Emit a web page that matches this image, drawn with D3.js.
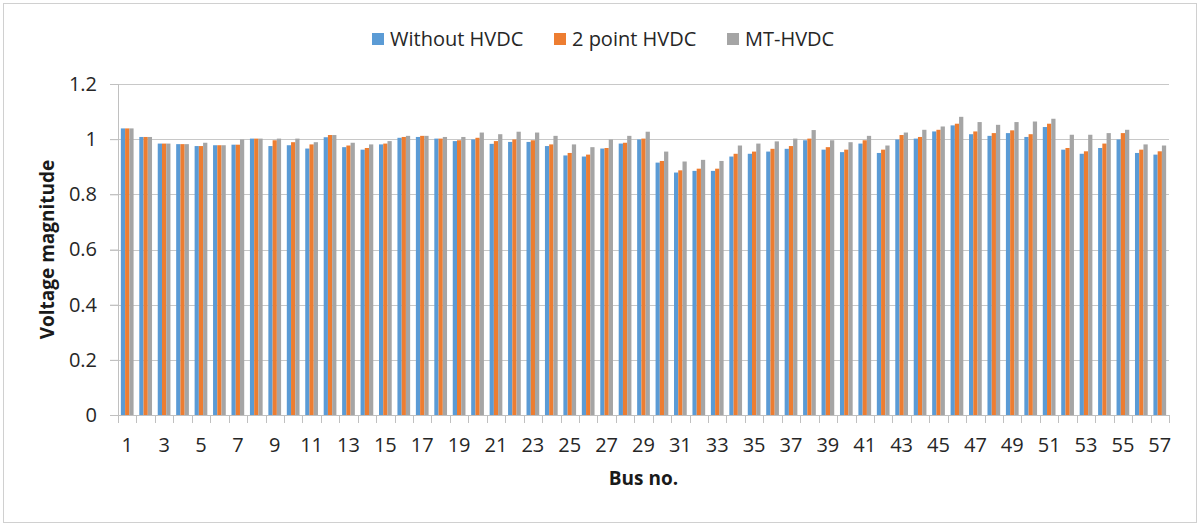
<!DOCTYPE html>
<html>
<head>
<meta charset="utf-8">
<script src="https://cdn.jsdelivr.net/npm/d3@7"></script>
<style>
  body { margin: 0; background: #fff; }
  #chart { width: 1200px; height: 528px; }
  text { font-family: "Open Sans", "Liberation Sans", sans-serif; }
</style>
</head>
<body>
<div id="chart"></div>
<script>
// Bus voltage magnitudes
const buses = d3.range(1, 58);
const seriesNames = ['Without HVDC', '2 point HVDC', 'MT-HVDC'];
const seriesColors = ['#5B9BD5', '#ED7D31', '#A5A5A5'];

const withoutHvdc = [
  1.039, 1.008, 0.984, 0.982, 0.975, 0.978, 0.980, 1.002, 0.975, 0.978,
  0.966, 1.007, 0.971, 0.962, 0.981, 1.005, 1.008, 1.002, 0.993, 0.999,
  0.983, 0.990, 0.990, 0.975, 0.941, 0.937, 0.966, 0.984, 0.999, 0.915,
  0.879, 0.885, 0.885, 0.937, 0.947, 0.955, 0.965, 0.996, 0.962, 0.953,
  0.984, 0.950, 0.999, 1.002, 1.028, 1.050, 1.018, 1.012, 1.022, 1.008,
  1.044, 0.962, 0.947, 0.968, 0.999, 0.950, 0.944
];
const twoPointHvdc = [
  1.039, 1.008, 0.984, 0.982, 0.975, 0.978, 0.980, 1.002, 0.996, 0.989,
  0.981, 1.015, 0.977, 0.968, 0.984, 1.008, 1.012, 1.002, 0.996, 1.005,
  0.993, 0.999, 0.996, 0.981, 0.950, 0.944, 0.968, 0.987, 1.002, 0.921,
  0.887, 0.893, 0.893, 0.947, 0.955, 0.965, 0.975, 1.002, 0.971, 0.962,
  0.996, 0.962, 1.015, 1.008, 1.034, 1.056, 1.028, 1.022, 1.032, 1.018,
  1.056, 0.968, 0.956, 0.984, 1.022, 0.962, 0.956
];
const mtHvdc = [
  1.039, 1.008, 0.984, 0.982, 0.987, 0.978, 0.999, 1.002, 1.002, 1.002,
  0.989, 1.015, 0.987, 0.981, 0.993, 1.012, 1.012, 1.008, 1.008, 1.024,
  1.018, 1.027, 1.024, 1.012, 0.981, 0.971, 0.999, 1.012, 1.027, 0.955,
  0.919, 0.925, 0.921, 0.977, 0.984, 0.992, 1.002, 1.033, 0.996, 0.989,
  1.012, 0.977, 1.024, 1.034, 1.046, 1.081, 1.062, 1.052, 1.062, 1.064,
  1.074, 1.016, 1.016, 1.022, 1.034, 0.981, 0.977
];
const yTicks = [0, 0.2, 0.4, 0.6, 0.8, 1, 1.2];

function renderVoltageChart() {
  const el = document.getElementById('chart');
  const W = 1200, H = 528;
  const margin = { top: 84, right: 31, bottom: 113, left: 118 };
  const width = W - margin.left - margin.right;
  const height = H - margin.top - margin.bottom;

  const svg = d3.select(el).append('svg')
    .attr('width', W)
    .attr('height', H);

  // chart border
  svg.append('rect')
    .attr('x', 3.5).attr('y', 3.5)
    .attr('width', W - 7).attr('height', H - 9)
    .attr('fill', '#fff')
    .attr('stroke', '#d0d0d0');

  const g = svg.append('g').attr('transform', `translate(${margin.left},${margin.top})`);

  const x = d3.scaleBand()
    .domain(buses)
    .range([0, width])
    .paddingInner(0.31)
    .paddingOuter(0.155);

  const xs = d3.scaleBand()
    .domain(d3.range(seriesNames.length))
    .range([0, x.bandwidth()]);

  const y = d3.scaleLinear()
    .domain([0, 1.2])
    .range([height, 0]);

  // gridlines
  g.append('g')
    .selectAll('line')
    .data(yTicks.slice(1))
    .enter()
    .append('line')
    .attr('x1', -8).attr('x2', width)
    .attr('y1', d => Math.round(y(d)) + 0.5)
    .attr('y2', d => Math.round(y(d)) + 0.5)
    .attr('stroke', '#c8c8c8');

  // y axis labels
  const yAxis = g.append('g')
    .call(d3.axisLeft(y).tickValues(yTicks).tickSize(8).tickPadding(13).tickFormat(d3.format('~g')));
  yAxis.select('.domain').attr('stroke', '#c0c0c0').attr('d', `M0.5,${height}V0`);
  yAxis.selectAll('.tick line').attr('stroke', '#c0c0c0');
  yAxis.selectAll('.tick text')
    .style('font-size', '20px')
    .attr('fill', '#262626');

  // bars
  const series = [withoutHvdc, twoPointHvdc, mtHvdc];
  series.forEach((vals, si) => {
    g.append('g')
      .selectAll('rect')
      .data(buses)
      .enter()
      .append('rect')
      .attr('x', (b) => x(b) + xs(si))
      .attr('y', (b, i) => y(vals[i]))
      .attr('width', xs.bandwidth())
      .attr('height', (b, i) => height - y(vals[i]))
      .attr('fill', seriesColors[si]);
  });

  // x axis: ticks at category boundaries, labels every other bus
  const xAxisG = g.append('g').attr('transform', `translate(0,${height})`);
  xAxisG.append('line')
    .attr('x1', -8).attr('x2', width)
    .attr('y1', 0.5).attr('y2', 0.5)
    .attr('stroke', '#c0c0c0');
  const boundaries = buses.map(b => x(b) - x.step() * x.paddingInner() / 2).concat([width]);
  xAxisG.selectAll('.xtick')
    .data(boundaries)
    .enter()
    .append('line')
    .attr('x1', d => Math.round(d) + 0.5)
    .attr('x2', d => Math.round(d) + 0.5)
    .attr('y1', 0).attr('y2', 8)
    .attr('stroke', '#c0c0c0');
  xAxisG.selectAll('.xlabel')
    .data(buses.filter(b => b % 2 === 1))
    .enter()
    .append('text')
    .attr('x', b => x(b) + x.bandwidth() / 2)
    .attr('y', 37)
    .attr('text-anchor', 'middle')
    .style('font-size', '20px')
    .attr('fill', '#262626')
    .text(b => b);

  // axis titles
  svg.append('text')
    .attr('x', margin.left + width / 2)
    .attr('y', 485)
    .attr('text-anchor', 'middle')
    .style('font-size', '19px')
    .style('font-weight', 'bold')
    .attr('fill', '#1a1a1a')
    .text('Bus no.');

  svg.append('text')
    .attr('transform', `translate(54,${margin.top + height / 2}) rotate(-90)`)
    .attr('text-anchor', 'middle')
    .style('font-size', '19px')
    .style('font-weight', 'bold')
    .attr('fill', '#1a1a1a')
    .text('Voltage magnitude');

  // legend
  const legendX = [372, 554, 727];
  const legend = svg.append('g');
  seriesNames.forEach((name, i) => {
    legend.append('rect')
      .attr('x', legendX[i]).attr('y', 33)
      .attr('width', 12).attr('height', 12)
      .attr('fill', seriesColors[i]);
    legend.append('text')
      .attr('x', legendX[i] + 18).attr('y', 46)
      .style('font-size', '20px')
      .attr('fill', '#262626')
      .text(name);
  });
}

renderVoltageChart();
</script>
</body>
</html>
